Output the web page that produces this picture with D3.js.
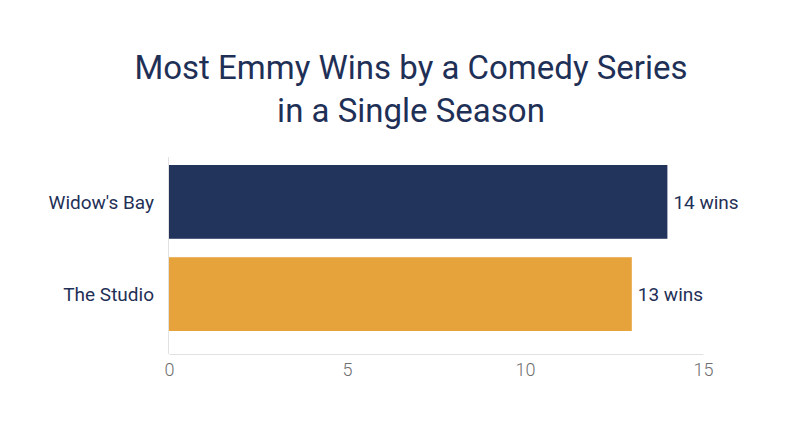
<!DOCTYPE html>
<html>
<head>
<meta charset="utf-8">
<script src="https://cdn.jsdelivr.net/npm/d3@7"></script>
<style>
  body { margin: 0; background: #fff; }
  #c { width: 800px; height: 447px; }
  text { font-family: Roboto, "Noto Sans", sans-serif; }
</style>
</head>
<body>
<div id="c"></div>
<script>
"use strict";

const shows = ["Widow's Bay", "The Studio"]
const wins = [14, 13]
const barColors = ["#22345c", "#e6a33b"]
const xTicks = [0, 5, 10, 15]
const titleLines = ["Most Emmy Wins by a Comedy Series", "in a Single Season"]

const navy = "#1f3057"

window.onload = function() {
    drawChart()
}

function drawChart() {
    const width = 800, height = 447
    const margin = {top: 157, right: 97, bottom: 92, left: 169}

    let svg = d3.select('#c')
        .append('svg')
            .attr('width', width)
            .attr('height', height)

    // title
    svg.append('g')
        .selectAll('text')
        .data(titleLines)
        .enter()
        .append('text')
            .attr('x', 411)
            .attr('y', (d, i) => 79 + i * 43)
            .attr('text-anchor', 'middle')
            .style('font-size', '33px')
            .style('fill', navy)
            .text(d => d)

    let g = svg.append('g')
        .attr('transform', "translate(" + margin.left + "," + margin.top + ")")
    const w = width - margin.left - margin.right
    const h = height - margin.top - margin.bottom

    let xScale = d3.scaleLinear()
        .domain([0, 15])
        .range([0, w])
    let yScale = d3.scaleBand()
        .domain(shows)
        .range([8, h - 24])
        .paddingInner(0.2)
        .paddingOuter(0)

    // left axis line
    g.append('line')
        .attr('x1', -0.5).attr('x2', -0.5)
        .attr('y1', 0).attr('y2', h - 1)
        .attr('stroke', '#e2e2e2')
        .attr('stroke-width', 1)

    // bottom axis
    let xAxis = g.append('g')
        .attr('transform', 'translate(0,' + (h - 1) + ')')
        .call(d3.axisBottom(xScale)
            .tickValues(xTicks)
            .tickSize(0)
            .tickPadding(9))
    xAxis.select('.domain')
        .attr('stroke', '#e2e2e2')
    xAxis.selectAll('text')
        .style('font-size', '18px')
        .style('font-family', 'Roboto, sans-serif')
        .style('font-weight', 300)
        .style('fill', '#6f6f6f')

    // bars
    g.selectAll('rect.bar')
        .data(shows)
        .enter()
        .append('rect')
            .attr('class', 'bar')
            .attr('x', 0)
            .attr('y', d => yScale(d))
            .attr('width', (d, i) => xScale(wins[i]))
            .attr('height', yScale.bandwidth())
            .attr('fill', (d, i) => barColors[i])

    // category labels
    g.selectAll('text.cat')
        .data(shows)
        .enter()
        .append('text')
            .attr('class', 'cat')
            .attr('x', -15)
            .attr('y', d => yScale(d) + yScale.bandwidth() / 2)
            .attr('dy', '0.35em')
            .attr('text-anchor', 'end')
            .style('font-size', '19px')
            .style('fill', navy)
            .text(d => d)

    // value labels
    g.selectAll('text.val')
        .data(shows)
        .enter()
        .append('text')
            .attr('class', 'val')
            .attr('x', (d, i) => xScale(wins[i]) + 6)
            .attr('y', d => yScale(d) + yScale.bandwidth() / 2)
            .attr('dy', '0.35em')
            .style('font-size', '19px')
            .style('fill', navy)
            .text((d, i) => wins[i] + " wins")
}
</script>
</body>
</html>
